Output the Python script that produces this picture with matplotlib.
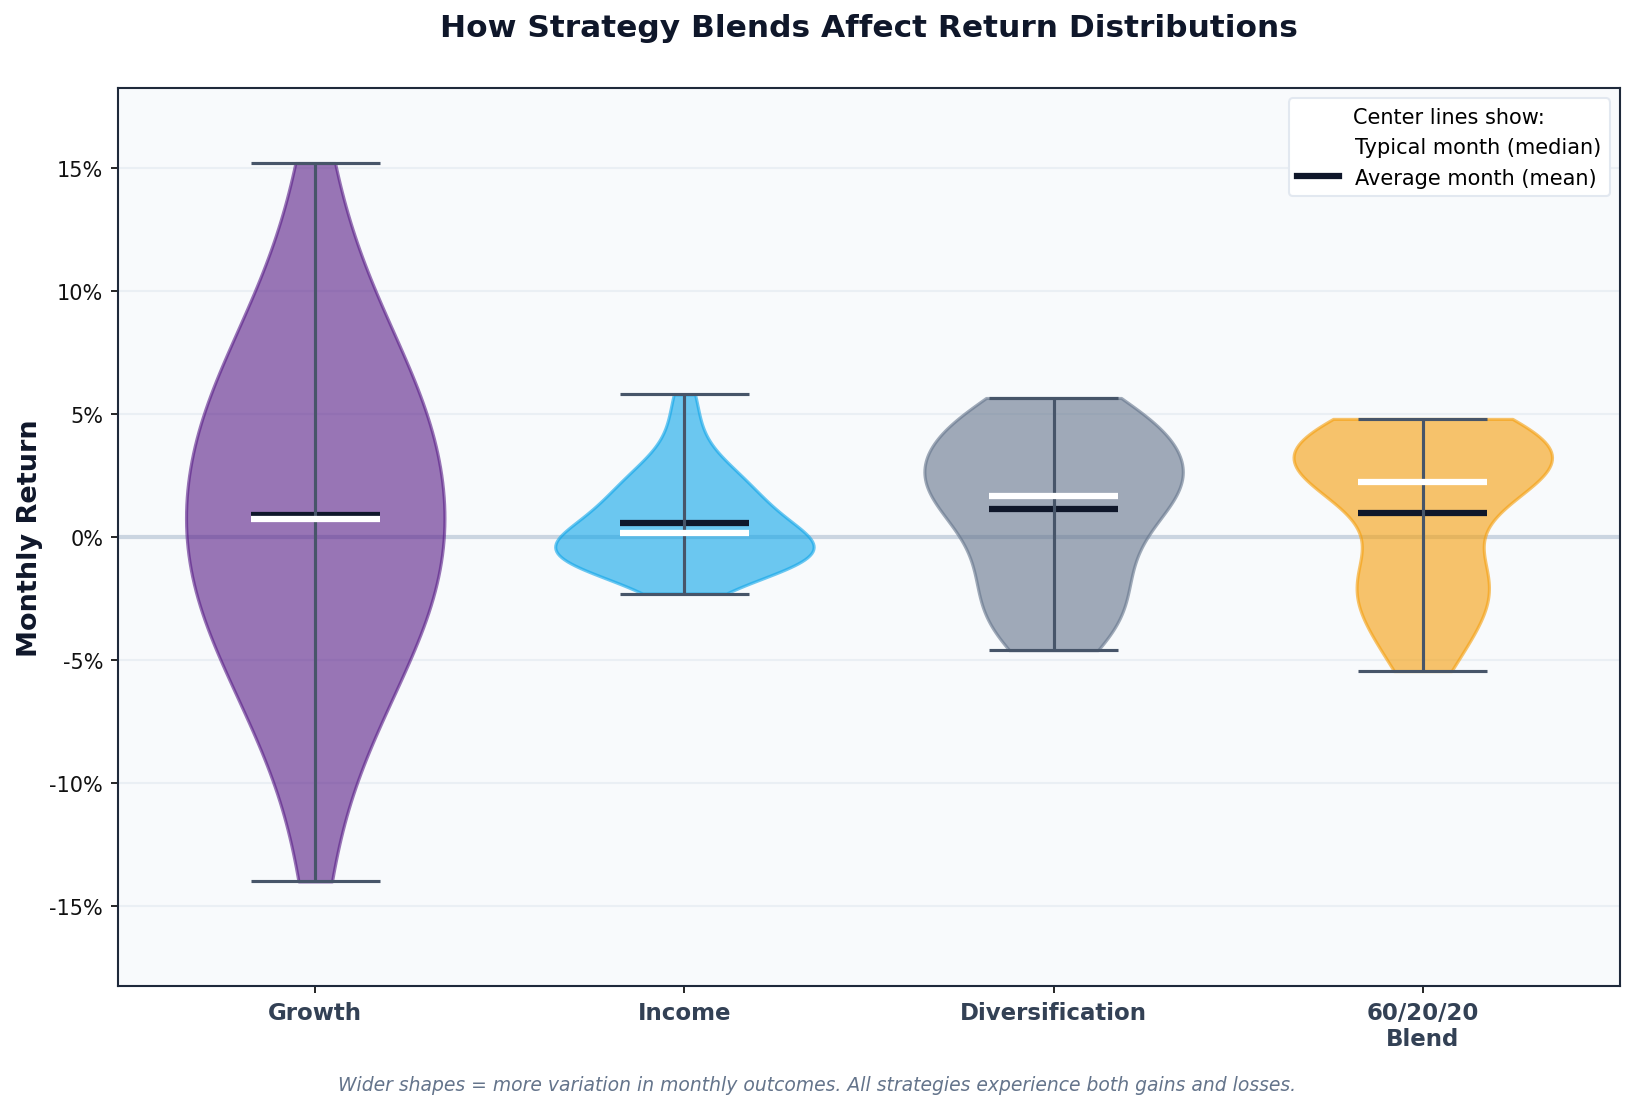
import matplotlib
matplotlib.use("Agg")
import matplotlib.pyplot as plt
from matplotlib.lines import Line2D

# ---- data (monthly returns, %) ----
strategies = ["Growth", "Income", "Diversification", "60/20/20\nBlend"]
colors = ["#581C87", "#0EA5E9", "#64748B", "#F59E0B"]

growth_returns = [-14.0, -10.3, -8.7, -7.5, -6.6, -5.7, -5.0, -4.4, -3.8, -3.2, -2.7, -2.2,
                  -1.7, -1.25, -0.8, -0.3, 0.15, 0.5, 0.96, 1.7, 2.15, 2.65, 3.1, 3.55,
                  4.05, 4.55, 5.05, 5.65, 6.25, 6.85, 7.55, 8.45, 9.35, 10.55, 12.15, 15.2]
income_returns = [-2.3, -1.8, -1.5, -1.3, -1.15, -1.0, -0.9, -0.85, -0.8, -0.75, -0.7, -0.65,
                  -0.6, -0.5, -0.4, -0.2, 0.0, 0.12, 0.22, 0.3, 0.45, 0.6, 0.8, 1.0,
                  1.2, 1.4, 1.5, 1.75, 2.0, 2.25, 2.5, 2.7, 3.0, 3.7, 4.6, 5.8]
diversification_returns = [-4.6, -4.3, -3.9, -3.5, -3.1, -2.7, -2.3, -1.9, -1.5, -1.1, -0.7, -0.3,
                           0.1, 0.5, 0.9, 1.2, 1.45, 1.62, 1.74, 1.95, 2.15, 2.35, 2.55, 2.75,
                           2.95, 3.15, 3.45, 3.7, 3.95, 4.2, 4.45, 4.7, 4.9, 5.15, 5.4, 5.65]
blend_returns = [-5.45, -4.85, -4.3, -3.75, -3.25, -2.8, -2.45, -2.15, -1.9, -1.65, -1.4, -1.1,
                 -0.8, 0.6, 1.2, 1.6, 1.9, 2.2, 2.3, 2.5, 2.7, 2.9, 3.0, 3.15,
                 3.3, 3.45, 3.55, 3.65, 3.75, 3.85, 3.95, 4.05, 4.2, 4.35, 4.55, 4.8]

ytick_values = [-15, -10, -5, 0, 5, 10, 15]
ytick_labels = [f"{v}%" for v in ytick_values]

title = "How Strategy Blends Affect Return Distributions"
footer = ("Wider shapes = more variation in monthly outcomes. "
          "All strategies experience both gains and losses.")

# ---- figure ----
fig = plt.figure(figsize=(10.9, 7.4133), dpi=150)
ax = fig.add_axes([0.0720, 0.1124, 0.9190, 0.8076])
ax.set_facecolor("#f8fafc")

data = [growth_returns, income_returns, diversification_returns, blend_returns]
positions = list(range(len(strategies)))

ax.axhline(0, color="#cbd5e1", lw=2, zorder=0.6)

parts = ax.violinplot(data, positions=positions, widths=0.7,
                      showmeans=True, showmedians=True, showextrema=True)
for body, c in zip(parts["bodies"], colors):
    body.set_facecolor(c)
    body.set_edgecolor(c)
    body.set_alpha(0.6)
    body.set_linewidth(1.5)
    body.set_zorder(2)
parts["cmeans"].set_color("#0f172a")
parts["cmeans"].set_linewidth(3)
parts["cmedians"].set_color("white")
parts["cmedians"].set_linewidth(3)
for key in ["cbars", "cmins", "cmaxes"]:
    parts[key].set_color("#475569")
    parts[key].set_linewidth(1.5)

ax.set_ylim(-18.25, 18.25)
ax.set_yticks(ytick_values)
ax.set_yticklabels(ytick_labels, fontsize=10, color="#111111")
ax.set_xticks(positions)
ax.set_xticklabels(strategies, fontsize=11, fontweight="bold", color="#334155")

ax.grid(axis="y", color="#e2e8f0", lw=1, alpha=0.6)
ax.set_axisbelow(True)
for sp in ax.spines.values():
    sp.set_color("#1e293b")
    sp.set_linewidth(1.0)

ax.set_ylabel("Monthly Return", fontsize=13, fontweight="bold", color="#0f172a")
ax.yaxis.set_label_coords(-0.050, 0.5)

handles = [Line2D([0], [0], color="white", lw=3),
           Line2D([0], [0], color="#0f172a", lw=3)]
leg = ax.legend(handles, ["Typical month (median)", "Average month (mean)"],
                title="Center lines show:", loc="upper right", fontsize=10,
                title_fontsize=10, frameon=True, facecolor="white",
                edgecolor="#e2e8f0", framealpha=1.0)

fig.text(0.5315, 0.974, title, ha="center", va="center", fontsize=15,
         fontweight="bold", color="#0f172a")
fig.text(0.5, 0.0234, footer, ha="center", va="center", fontsize=9,
         style="italic", color="#64748b")

fig.savefig("out.png", dpi=150)
